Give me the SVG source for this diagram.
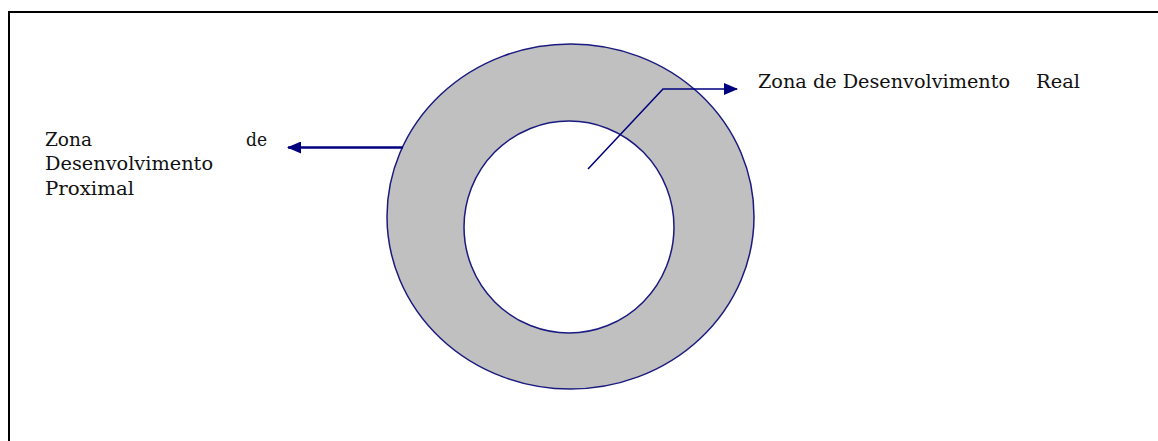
<svg xmlns="http://www.w3.org/2000/svg" width="1158" height="441" viewBox="0 0 1158 441">
<style>
text{font-family:"DejaVu Serif","Liberation Serif",serif;font-size:18px;fill:#111}
.c{stroke:#1a1a80;stroke-width:1.5}
.a{stroke:#00007f;fill:none}
</style>
<defs>
<marker id="ah" markerWidth="14" markerHeight="12" refX="13" refY="6" orient="auto" markerUnits="userSpaceOnUse" viewBox="0 0 14 12">
<path d="M0,0 L14,6 L0,12 z" fill="#00007f"/>
</marker>
</defs>
<rect width="1158" height="441" fill="#fff"/>
<path d="M9,441 V12 H1158" fill="none" stroke="#000" stroke-width="2"/>
<g id="outer"><ellipse class="c" cx="570.5" cy="216.5" rx="183.5" ry="172.5" fill="#c0c0c0"/></g>
<g id="inner"><ellipse class="c" cx="569" cy="227" rx="105" ry="106" fill="#fff"/></g>
<g id="connectors">
<path class="a" stroke-width="1.5" d="M588,169 L663,89 H737" marker-end="url(#ah)"/>
<path class="a" stroke-width="2.5" d="M403,147.5 H288" marker-end="url(#ah)"/>
</g>
<g id="label-real"><text x="758" y="88" textLength="252" lengthAdjust="spacingAndGlyphs">Zona de Desenvolvimento</text><text x="1036" y="88" textLength="44" lengthAdjust="spacingAndGlyphs">Real</text></g>
<g id="label-proximal">
<text x="45" y="146" textLength="47" lengthAdjust="spacingAndGlyphs">Zona</text><text x="246" y="146" textLength="21" lengthAdjust="spacingAndGlyphs">de</text>
<text x="45" y="170" textLength="168" lengthAdjust="spacingAndGlyphs">Desenvolvimento</text>
<text x="45" y="195" textLength="89" lengthAdjust="spacingAndGlyphs">Proximal</text>
</g>
</svg>
